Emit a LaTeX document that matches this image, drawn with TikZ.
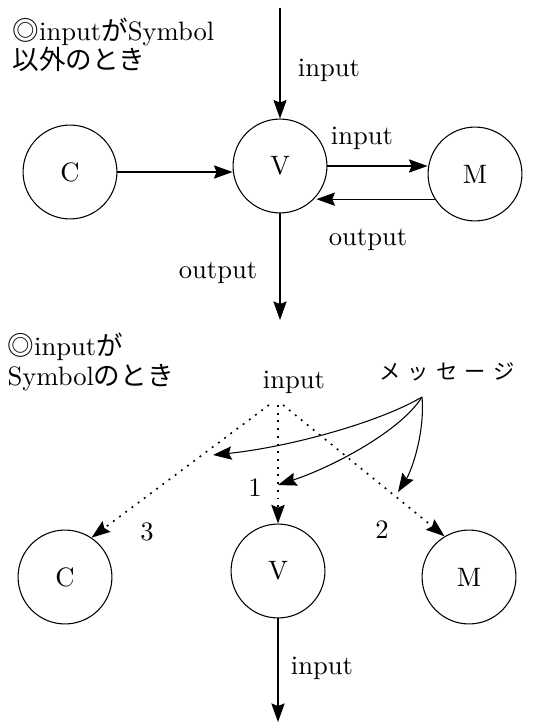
\documentclass[tikz,border=0pt]{standalone}
\usepackage{fontspec}
\newfontfamily\jp{Noto Sans CJK JP}
\usetikzlibrary{arrows.meta,positioning,calc}

\begin{document}
\begin{tikzpicture}[x=0.376pt,y=-0.376pt,
    obj/.style={draw,circle,minimum size=35.3pt,inner sep=0pt},
    arr/.style={-{Stealth[length=7pt,width=5pt,inset=1pt]}},
    dot/.style={dash pattern=on 0.7pt off 2.2pt,line width=0.6pt}]
    \useasboundingbox (0,0) rectangle (545,724);
    % Symbol以外
    \node[anchor=west,align=left,inner sep=0pt] (title1) at (12,45)
        {{\jp ◎}input{\jp が}Symbol\\[-1pt]{\jp 以外のとき}};
    \node[obj] (c1) at (70,172) {C};
    \node[obj] (v1) at (280,166) {V};
    \node[obj] (m1) at (475,174) {M};
    \coordinate (topin) at (v1.north |- 0,8);
    \coordinate (botout) at (v1.south |- 0,320);
    \draw[arr] (topin) -- (v1.north);
    \draw[arr] (c1.east) -- (c1.east -| v1.west);
    \draw[arr] (v1.east) -- (v1.east -| m1.west);
    \draw[arr] (m1.212) -- (m1.212 -| v1.-40);
    \draw[arr] (v1.south) -- (botout);
    \node (lin1) at (329,70) {input};
    \node (lin2) at (362,138) {input};
    \node (lout1) at (368,240) {output};
    \node (lout2) at (218,273) {output};
    % Symbol
    \node[anchor=west,align=left,inner sep=0pt] (title2) at (7,362)
        {{\jp ◎}input{\jp が}\\[-1pt]Symbol{\jp のとき}};
    \node[obj] (c2) at (65,577) {C};
    \node[obj] (v2) at (278,571) {V};
    \node[obj] (m2) at (469,577) {M};
    \node (in2) at (294,382) {input};
    \coordinate (sl) at (269,405);
    \coordinate (sm) at (v2.north |- 0,405);
    \coordinate (sr) at (283,405);
    \draw[dot,arr] (sl) -- (c2.56);
    \draw[dot,arr] (sm) -- (v2.north);
    \draw[dot,arr] (sr) -- (m2.121);
    \draw[arr] (v2.south) -- (v2.south |- 0,722);
    \node (lin3) at (322,668) {input};
    \node (n1) at (255,488) {1};
    \node (n2) at (382,530) {2};
    \node (n3) at (147,532) {3};
    \node (msgtxt) at (447,372) {\jp\footnotesize メ\,\,ッ\,\,セ\,\,ー\,\,ジ};
    \coordinate (msg) at (422,397);
    \draw[arr] (msg) .. controls (380,422) and (290,447) .. (213,455);
    \draw[arr] (msg) .. controls (400,432) and (330,468) .. (278,485);
    \draw[arr] (msg) .. controls (425,432) and (412,470) .. (398,492);
\end{tikzpicture}
\end{document}
